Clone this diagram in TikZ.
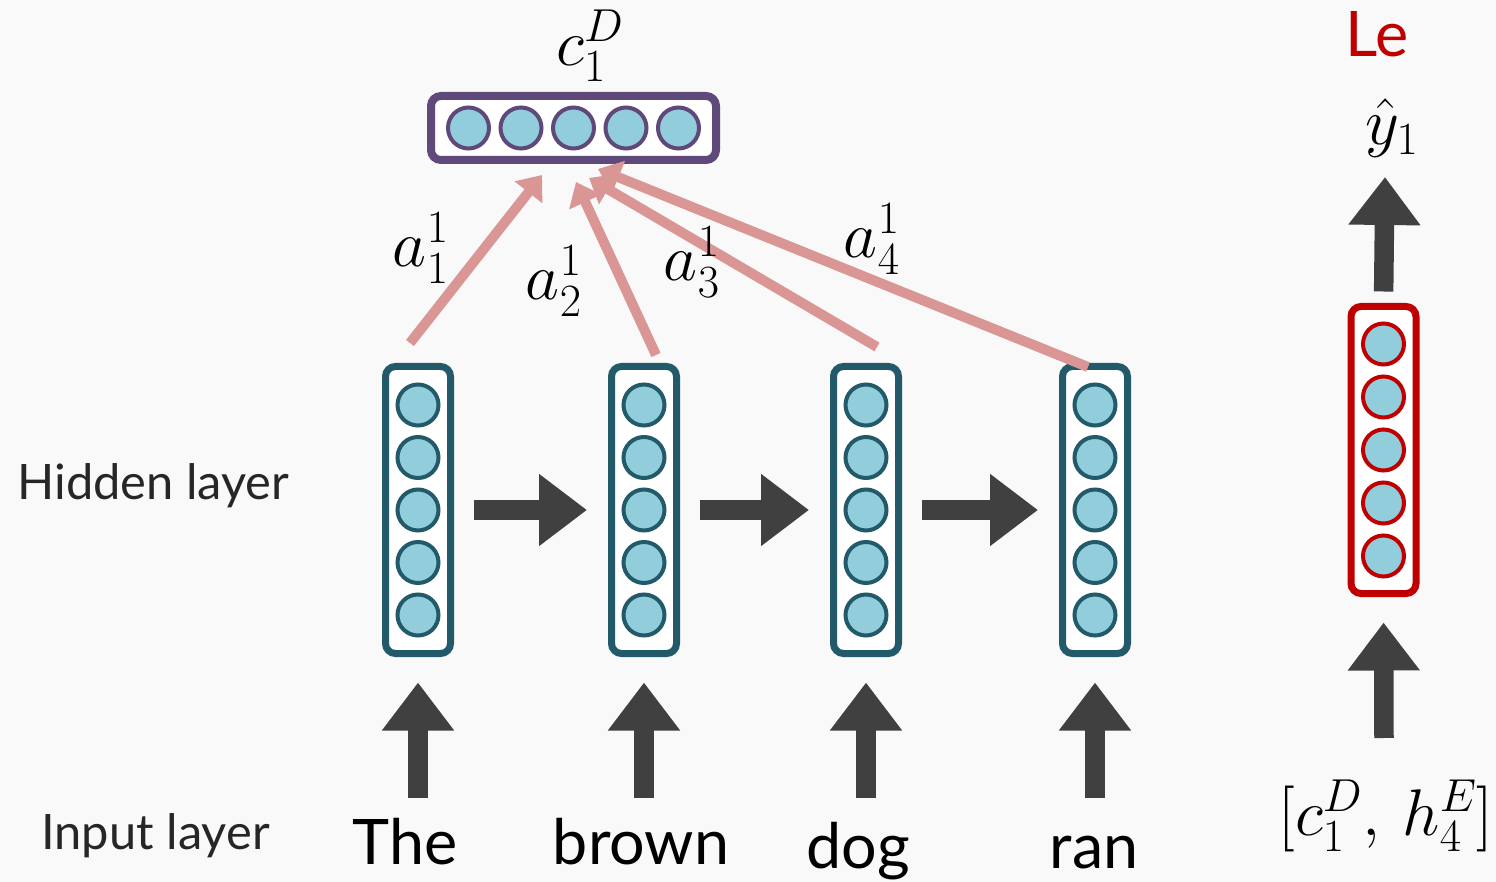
\documentclass[tikz,border=0pt]{standalone}
\usepackage{fix-cm}
\usepackage{fontspec}
\newfontfamily\labelfont{Lato}
\usetikzlibrary{arrows.meta}
\definecolor{bg}{HTML}{F9F9F9}
\definecolor{hidteal}{HTML}{225A6A}
\definecolor{cellblue}{HTML}{92CDDC}
\definecolor{ctxpurple}{HTML}{5F497A}
\definecolor{attpink}{HTML}{D99694}
\definecolor{arrowgray}{HTML}{404040}
\definecolor{outred}{HTML}{C00000}
\definecolor{txtgray}{HTML}{262626}
\begin{document}
\begin{tikzpicture}[x=0.5pt,y=-0.5pt,
  unit/.style={circle, draw=#1, fill=cellblue, line width=2pt,
    minimum size=20.5pt, inner sep=0pt},
  unit/.default=hidteal,
  colbox/.style={rectangle, rounded corners=5pt, draw=#1, fill=white,
    line width=3.5pt, minimum width=32.5pt, minimum height=143.5pt, inner sep=0pt},
  rowbox/.style={rectangle, rounded corners=5pt, draw=#1, fill=white,
    line width=4pt, minimum width=142.5pt, minimum height=32pt, inner sep=0pt},
  blockarrow/.style={draw=arrowgray, line width=9.75pt,
    -{Triangle[length=24pt,width=34.5pt]}},
  attarrow/.style={draw=attpink, line width=5pt,
    -{Triangle[length=11pt,width=17pt]}},
  mathlabel/.style={font=\fontsize{33}{40}\selectfont, inner sep=0pt},
  layerlabel/.style={font=\labelfont\fontsize{24.4}{28}\selectfont,
    text=txtgray, anchor=base west, inner sep=0pt},
  wordlabel/.style={font=\labelfont\fontsize{31.4}{36}\selectfont,
    text=black, anchor=base, inner sep=0pt}
]
\fill[bg] (0,0) rectangle (1496,882);
\useasboundingbox (0,0) rectangle (1496,882);

% encoder hidden states
\foreach \i/\x in {1/418,2/644,3/866,4/1095} {
  \node[colbox=hidteal] (h\i) at (\x,510) {};
  \foreach \k [count=\n] in {-2,...,2}
    \node[unit] (h\i u\n) at (\x,510+52.5*\k) {};
}

% recurrence arrows
\draw[blockarrow, shorten <=10pt, shorten >=10.5pt] (h1.east) -- (h2.west);
\draw[blockarrow, shorten <=10pt, shorten >=10.5pt] (h2.east) -- (h3.west);
\draw[blockarrow, shorten <=10pt, shorten >=10.5pt] (h3.east) -- (h4.west);

% input words
\node[wordlabel] (w1) at (405,864) {The};
\node[wordlabel] (w2) at (641,864) {brown};
\node[wordlabel] (w3) at (858,868) {dog};
\node[wordlabel] (w4) at (1094,868) {ran};
\foreach \i/\x in {1/418,2/644,3/866,4/1095} {
  \coordinate (in\i) at (\x,798);
  \draw[blockarrow, shorten >=12.75pt] (in\i) -- (h\i.south);
}

% layer labels
\node[layerlabel] (hidlab) at (17,500) {Hidden layer};
\node[layerlabel] (inlab) at (41,849) {Input layer};

% context vector
\node[rowbox=ctxpurple] (ctx) at (573.5,128) {};
\foreach \k [count=\n] in {-2,...,2}
  \node[unit=ctxpurple] (ctx u\n) at (573.5+52.5*\k,128) {};
\node[mathlabel] (ctxlab) at (590,46) {$c_1^D$};

% attention weights
\coordinate (s1) at (410,343);  \coordinate (t1) at (542,175);
\coordinate (s2) at (656,355);  \coordinate (t2) at (576,182);
\coordinate (s3) at (877,347);  \coordinate (t3) at (589,178);
\coordinate (s4) at (1088,367); \coordinate (t4) at (598,169);
\draw[attarrow] (s4) -- (t4);
\draw[attarrow] (s3) -- (t3);
\draw[attarrow] (s2) -- (t2);
\draw[attarrow] (s1) -- (t1);
\node[mathlabel] (a1) at (421,248) {$a_1^1$};
\node[mathlabel] (a2) at (554,281) {$a_2^1$};
\node[mathlabel] (a3) at (692,262) {$a_3^1$};
\node[mathlabel] (a4) at (872,239) {$a_4^1$};

% decoder step
\node[colbox=outred] (dec) at (1383.5,450) {};
\foreach \k [count=\n] in {-2,...,2}
  \node[unit=outred] (dec u\n) at (1383.5,450+53*\k) {};
\coordinate (decin) at (1384,738);
\coordinate (decout) at (1385,177);
\draw[blockarrow, shorten >=12.75pt] (decin) -- (dec.south);
\draw[blockarrow, shorten <=5.75pt] (dec.north) -- (decout);
\node[mathlabel] (declab) at (1386,816) {$[c_1^D,\, h_4^E]$};
\node[mathlabel] (yhat) at (1392,128) {$\hat{y}_1$};
\node[font=\labelfont\fontsize{31.4}{36}\selectfont, text=outred,
  anchor=base west, inner sep=0pt] (word) at (1345,57) {Le};
\end{tikzpicture}
\end{document}
